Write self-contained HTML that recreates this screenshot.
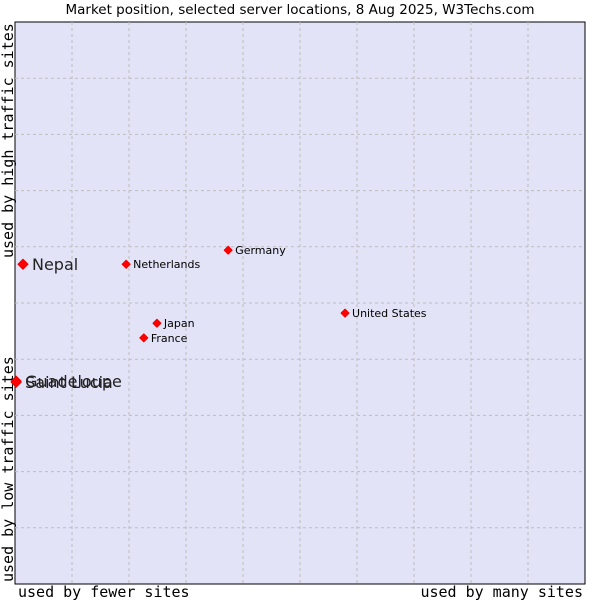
<!DOCTYPE html>
<html><head><meta charset="utf-8"><style>
body{margin:0;background:#fff;width:600px;height:600px;overflow:hidden}
svg{display:block}
</style></head><body>
<svg id="c" width="600" height="600" xmlns="http://www.w3.org/2000/svg">
<text x="300" y="14" text-anchor="middle" font-family="DejaVu Sans, sans-serif" font-size="13.5" fill="#000">Market position, selected server locations, 8 Aug 2025, W3Techs.com</text>
<rect x="15" y="22" width="570" height="562" fill="#e3e3f8" stroke="#000" stroke-width="1"/>
<g id="grid"></g>
<g id="pts"></g>
<text x="18" y="597" font-family="DejaVu Sans Mono, Liberation Mono, monospace" font-size="15">used by fewer sites</text>
<text x="583" y="597" text-anchor="end" font-family="DejaVu Sans Mono, Liberation Mono, monospace" font-size="15">used by many sites</text>
<text transform="translate(13,582) rotate(-90)" font-family="DejaVu Sans Mono, Liberation Mono, monospace" font-size="15">used by low traffic sites</text>
<text transform="translate(13,258) rotate(-90)" font-family="DejaVu Sans Mono, Liberation Mono, monospace" font-size="15">used by high traffic sites</text>
</svg>
<script>
const names=["Nepal","Netherlands","Germany","United States","Japan","France","Guadeloupe","Saint Lucia"];
const xVals=[1.4,19.5,37.4,57.9,24.9,22.6,0.2,0.2];
const yVals=[56.9,56.9,59.4,48.2,46.4,43.8,36.1,35.9];
const big=[true,false,false,false,false,false,true,true];
const NS="http://www.w3.org/2000/svg";
const L=15,T=22,W=570,H=562;
const sx=v=>L+v/100*W, sy=v=>T+H-v/100*H;
const g=document.getElementById('grid');
for(let i=1;i<10;i++){
 const x=L+i*57,y=T+i*56.2;
 const a=document.createElementNS(NS,'line');
 
 
 a.setAttribute('x1',x);a.setAttribute('x2',x);a.setAttribute('y1',T);a.setAttribute('y2',T+H);
 a.setAttribute('stroke','#bdbdbd');a.setAttribute('stroke-dasharray','3,3');g.appendChild(a);
 const b=document.createElementNS(NS,'line');
 
 
 b.setAttribute('x1',L);b.setAttribute('x2',L+W);b.setAttribute('y1',y);b.setAttribute('y2',y);
 b.setAttribute('stroke','#bdbdbd');b.setAttribute('stroke-dasharray','3,3');g.appendChild(b);
}
const p=document.getElementById('pts');
names.forEach((n,i)=>{
 const x=sx(xVals[i]),y=sy(yVals[i]);
 const r=big[i]?5:4;
 const m=document.createElementNS(NS,'path');
 
 
 m.setAttribute('d',`M${x-r},${y}L${x},${y-r}L${x+r},${y}L${x},${y+r}Z`);
 m.setAttribute('fill','#f00');m.setAttribute('stroke','#e00');m.setAttribute('stroke-width','1');m.setAttribute('stroke-linejoin','round');
 p.appendChild(m);
 const t=document.createElementNS(NS,'text');
 
 
 t.setAttribute('x',x+(big[i]?9:7));t.setAttribute('y',y+(big[i]?6:4));
 t.setAttribute('font-family','DejaVu Sans, sans-serif');
 t.setAttribute('font-size',big[i]?'16':'11');
 t.setAttribute('fill',big[i]?'#222':'#000');
 t.textContent=n;p.appendChild(t);
});
</script>
</body></html>
